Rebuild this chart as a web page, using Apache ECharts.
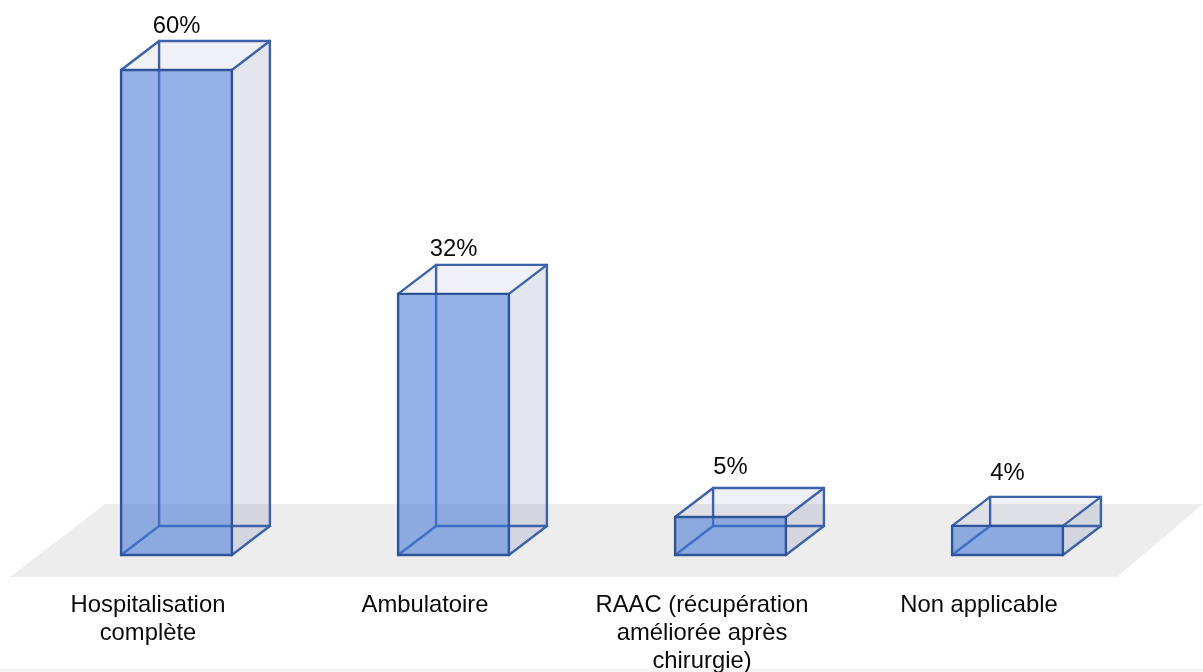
<!DOCTYPE html>
<html>
<head>
<meta charset="utf-8">
<style>
  html, body { margin: 0; padding: 0; background: #fff; }
  #main { width: 1203px; height: 672px; }
</style>
</head>
<body>
<div id="main"></div>
<script src="https://cdn.jsdelivr.net/npm/echarts@6/dist/echarts.min.js"></script>
<script>
var categories = ['Hospitalisation\ncomplète', 'Ambulatoire', 'RAAC (récupération\naméliorée après\nchirurgie)', 'Non applicable'];
var values = [60, 32.3, 4.7, 3.6];
var valueLabels = ['60%', '32%', '5%', '4%'];

// box depth in pixels
var depthX = 38;
var depthY = 29;
// gap between box top and its label, the short boxes have it bigger
var labelGaps = [15, 15, 21, 23];

var chart = echarts.init(document.getElementById('main'));

function face(points, fill) {
  return { type: 'polygon', shape: { points: points }, style: { fill: fill, stroke: null } };
}

function edge(x1, y1, x2, y2, color) {
  return {
    type: 'line',
    shape: { x1: x1, y1: y1, x2: x2, y2: y2 },
    style: { stroke: color, lineWidth: 2.4, lineCap: 'round' }
  };
}

function renderBox(params, api) {
  var i = api.value(0);
  var top = api.coord([i, api.value(1)]);
  var base = api.coord([i, 0]);
  var w = api.size([1, 0])[0] * 0.4;
  var l = top[0] - w / 2, r = top[0] + w / 2;
  var t = top[1], b = base[1];
  var dx = depthX, dy = depthY;
  var backLine = '#3d62a9', frontLine = '#2f5499';
  return {
    type: 'group',
    children: [
      face([[l, t], [l + dx, t - dy], [r + dx, t - dy], [r, t]], 'rgba(60,80,140,0.08)'),
      face([[r, t], [r + dx, t - dy], [r + dx, b - dy], [r, b]], 'rgba(60,80,140,0.14)'),
      edge(l + dx, t - dy, l + dx, b - dy, backLine),
      edge(l + dx, b - dy, r + dx, b - dy, backLine),
      edge(l, b, l + dx, b - dy, backLine),
      face([[l, t], [r, t], [r, b], [l, b]], 'rgba(70,120,215,0.58)'),
      edge(l, t, l + dx, t - dy, backLine),
      edge(l + dx, t - dy, r + dx, t - dy, backLine),
      edge(r + dx, t - dy, r + dx, b - dy, backLine),
      edge(r, t, r + dx, t - dy, backLine),
      edge(r, b, r + dx, b - dy, backLine),
      edge(l, t, r, t, frontLine),
      edge(r, t, r, b, frontLine),
      edge(r, b, l, b, frontLine),
      edge(l, b, l, t, frontLine),
      {
        type: 'text',
        style: {
          x: top[0],
          y: t - dy - labelGaps[i],
          text: valueLabels[i],
          fill: '#0a0a0a',
          font: '23.8px "Liberation Sans", Arial, sans-serif',
          align: 'center',
          verticalAlign: 'middle'
        }
      }
    ]
  };
}

var option = {
  animation: false,
  backgroundColor: '#fff',
  grid: { left: 38, width: 1108, top: 70, height: 485, outerBoundsMode: 'none' },
  xAxis: {
    type: 'category',
    data: categories,
    axisLine: { show: false },
    axisTick: { show: false },
    axisLabel: {
      interval: 0,
      margin: 36,
      padding: [0, 57, 0, 0],
      color: '#0a0a0a',
      fontFamily: '"Liberation Sans", Arial, sans-serif',
      fontSize: 23.8,
      lineHeight: 28
    }
  },
  yAxis: { type: 'value', min: 0, max: 60, show: false },
  // floor under the boxes and the faint strip at the bottom edge
  graphic: [
    {
      type: 'polygon',
      z: -1,
      silent: true,
      shape: { points: [[10, 577], [1117, 577], [1203, 504], [105, 504]] },
      style: { fill: '#ededed' }
    },
    {
      type: 'rect',
      z: -1,
      silent: true,
      shape: { x: 0, y: 669, width: 1203, height: 3 },
      style: { fill: '#f4f4f4' }
    }
  ],
  series: [
    {
      type: 'custom',
      renderItem: renderBox,
      clip: false,
      encode: { x: 0, y: 1 },
      data: values.map(function (v, i) { return [i, v]; })
    }
  ]
};

chart.setOption(option);
</script>
</body>
</html>
